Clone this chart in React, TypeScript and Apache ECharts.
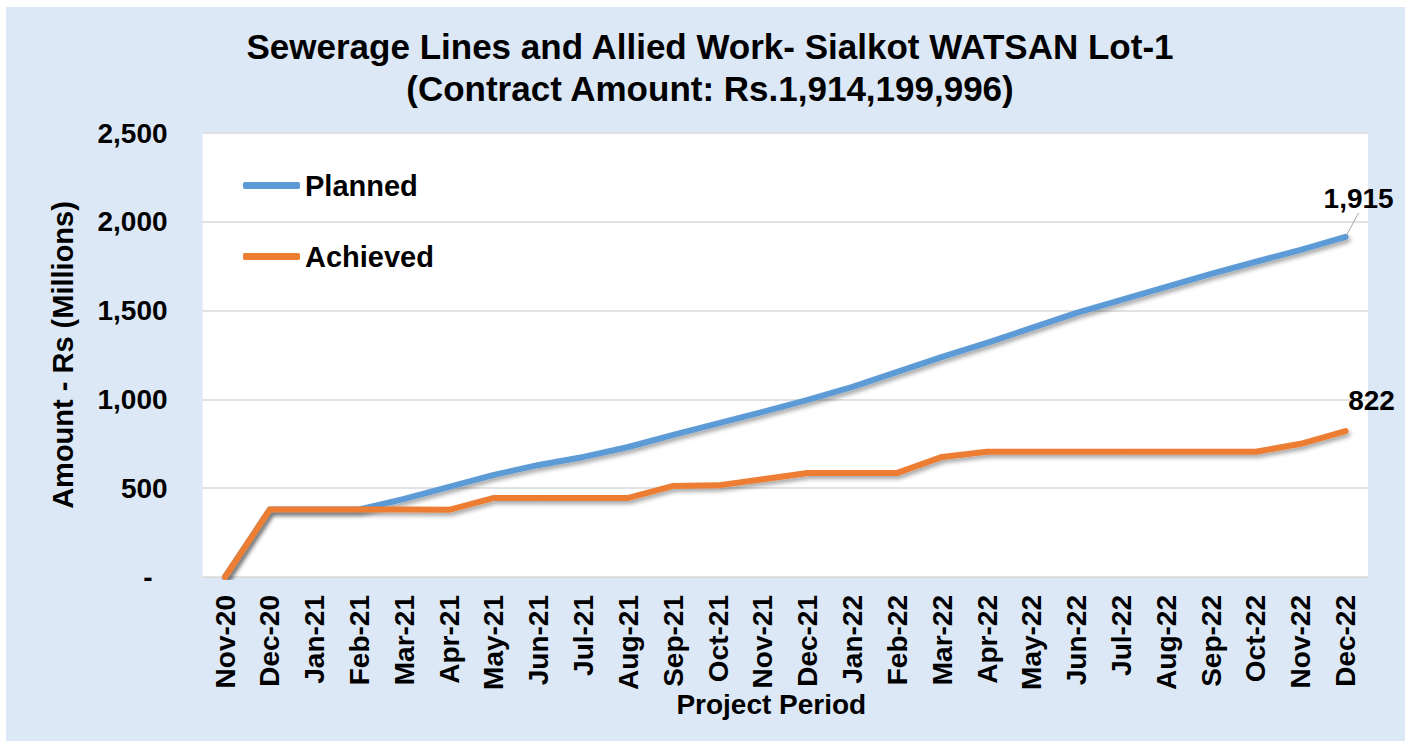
import React, { useEffect, useRef } from "react";
import * as echarts from "echarts";

const categories = [
  "Nov-20", "Dec-20", "Jan-21", "Feb-21", "Mar-21", "Apr-21", "May-21", "Jun-21", "Jul-21",
  "Aug-21", "Sep-21", "Oct-21", "Nov-21", "Dec-21", "Jan-22", "Feb-22", "Mar-22", "Apr-22",
  "May-22", "Jun-22", "Jul-22", "Aug-22", "Sep-22", "Oct-22", "Nov-22", "Dec-22",
];
const planned = [
  0, 380, 380, 380, 440, 507, 575, 631, 676, 732, 800, 865, 930, 997, 1070, 1155, 1239, 1318,
  1403, 1487, 1560, 1634, 1707, 1775, 1842, 1915,
];
const achieved = [
  0, 380, 380, 380, 380, 378, 445, 445, 445, 445, 513, 516, 550, 586, 586, 586, 676, 705, 705,
  705, 705, 705, 705, 705, 750, 822,
];
const yTicks = [0, 500, 1000, 1500, 2000, 2500];

const FONT = "'Liberation Sans', Arial, sans-serif";
const fmt = (v: number) => v.toLocaleString("en-US");

function lastLabelData(arr: number[]) {
  return arr.map((v, i) =>
    i === arr.length - 1 ? { value: v, label: { show: true } } : v
  );
}

export default function App() {
  const ref = useRef<HTMLDivElement>(null);
  useEffect(() => {
    if (!ref.current) return;
    const chart = echarts.init(ref.current, undefined, { renderer: "svg" });
    const shadow = {
      shadowColor: "rgba(0,0,0,0.35)",
      shadowBlur: 4,
      shadowOffsetX: 2,
      shadowOffsetY: 3,
    };
    chart.setOption({
      animation: false,
      backgroundColor: "#ffffff",
      textStyle: { fontFamily: FONT },
      graphic: [
        {
          type: "rect",
          z: -10,
          silent: true,
          shape: { x: 6, y: 7, width: 1399, height: 734 },
          style: { fill: "#dce8f6" },
        },
      ],
      title: {
        text: "Sewerage Lines and Allied Work- Sialkot WATSAN Lot-1\n(Contract Amount: Rs.1,914,199,996)",
        left: 705,
        top: 20,
        textAlign: "center",
        textStyle: {
          fontFamily: FONT,
          fontWeight: "bold",
          fontSize: 35,
          lineHeight: 42,
          color: "#000",
        },
      },
      legend: {
        orient: "vertical",
        left: 238,
        top: 166,
        itemWidth: 57,
        itemHeight: 7,
        itemGap: 42,
        icon: "roundRect",
        data: ["Planned", "Achieved"],
        textStyle: { fontFamily: FONT, fontWeight: "bold", fontSize: 29, color: "#000" },
      },
      grid: {
        left: 202.6,
        right: 45,
        top: 133,
        bottom: 164,
        show: true,
        backgroundColor: "#ffffff",
        borderWidth: 0,
      },
      xAxis: {
        type: "category",
        data: categories,
        boundaryGap: true,
        axisLine: { show: true, lineStyle: { color: "#d9d9d9", width: 1 } },
        axisTick: { show: false },
        axisLabel: {
          rotate: 90,
          margin: 18,
          interval: 0,
          fontFamily: FONT,
          fontWeight: "bold",
          fontSize: 28,
          color: "#000",
        },
        name: "Project Period",
        nameLocation: "middle",
        nameGap: 113,
        nameMoveOverlap: false,
        nameTextStyle: {
          fontFamily: FONT,
          fontWeight: "bold",
          fontSize: 28,
          color: "#000",
          padding: [0, 28, 0, 0],
        },
      },
      yAxis: {
        type: "value",
        min: yTicks[0],
        max: yTicks[yTicks.length - 1],
        interval: 500,
        axisLine: { show: false },
        axisTick: { show: false },
        splitLine: { show: true, lineStyle: { color: "#d9d9d9", width: 1.5 } },
        axisLabel: {
          margin: 35,
          fontFamily: FONT,
          fontWeight: "bold",
          fontSize: 28,
          color: "#000",
          formatter: (v: number) => (v === 0 ? "{d|-}" : fmt(v)),
          rich: {
            d: {
              fontFamily: FONT,
              fontWeight: "bold",
              fontSize: 28,
              color: "#000",
              padding: [0, 15, 0, 0],
            },
          },
        },
        name: "Amount - Rs (Millions)",
        nameLocation: "middle",
        nameGap: 125,
        nameMoveOverlap: false,
        nameTextStyle: { fontFamily: FONT, fontWeight: "bold", fontSize: 29, color: "#000" },
      },
      series: [
        {
          name: "Planned",
          type: "line",
          data: lastLabelData(planned),
          symbol: "circle",
          symbolSize: 2,
          itemStyle: { color: "#5b9bd5" },
          lineStyle: { color: "#5b9bd5", width: 6, cap: "round", join: "round", ...shadow },
          label: {
            show: false,
            position: "top",
            formatter: (p: any) => fmt(p.value),
            fontFamily: FONT,
            fontWeight: "bold",
            fontSize: 28,
            color: "#000",
          },
          labelLayout: { dx: 13, dy: -18 },
          labelLine: { show: true, lineStyle: { color: "#a6a6a6", width: 1 } },
          z: 2,
        },
        {
          name: "Achieved",
          type: "line",
          data: lastLabelData(achieved),
          symbol: "circle",
          symbolSize: 2,
          itemStyle: { color: "#ed7d31" },
          lineStyle: { color: "#ed7d31", width: 6, cap: "round", join: "round", ...shadow },
          label: {
            show: false,
            position: "top",
            offset: [26, -11],
            formatter: (p: any) => fmt(p.value),
            fontFamily: FONT,
            fontWeight: "bold",
            fontSize: 28,
            color: "#000",
          },
          z: 3,
        },
      ],
    });
    return () => chart.dispose();
  }, []);
  return (
    <div
      ref={ref}
      style={{ position: "absolute", left: 0, top: 0, width: 1413, height: 741 }}
    />
  );
}
